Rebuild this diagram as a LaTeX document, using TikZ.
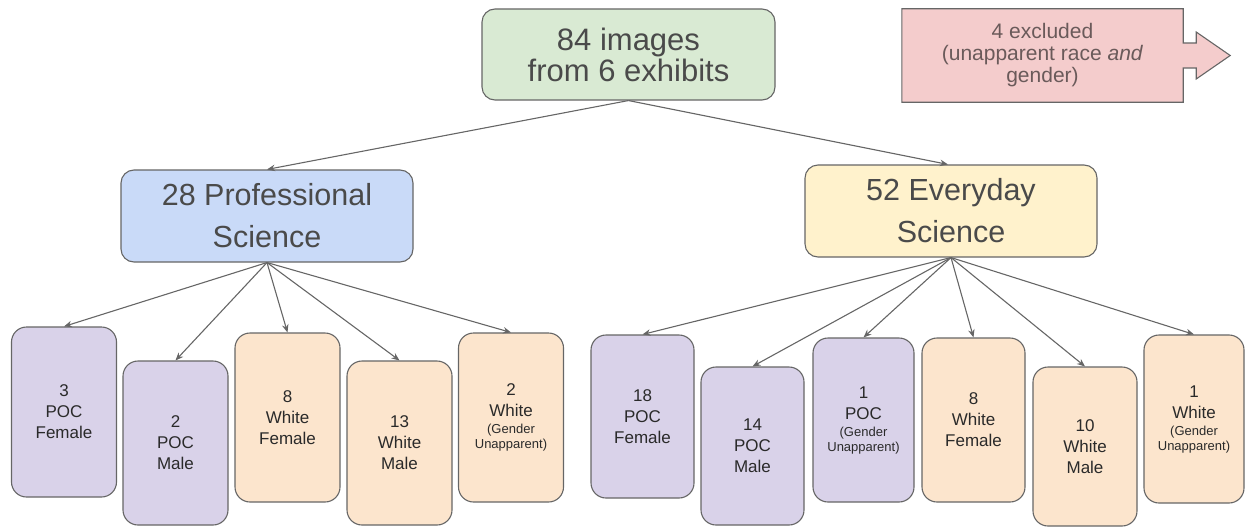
\documentclass[tikz,border=0pt]{standalone}
\usepackage{fontspec}
\setmainfont{Liberation Sans}
\usetikzlibrary{arrows.meta,calc,backgrounds}

\definecolor{edge}{HTML}{666666}
\definecolor{bigtext}{HTML}{4A4A4A}
\definecolor{leaftext}{HTML}{2A2A2A}
\definecolor{notetext}{HTML}{6A5A5A}
\definecolor{rootfill}{HTML}{D9EAD3}
\definecolor{profill}{HTML}{C9DAF8}
\definecolor{dayfill}{HTML}{FFF2CC}
\definecolor{pocfill}{HTML}{D9D2E9}
\definecolor{whtfill}{HTML}{FCE5CD}
\definecolor{exclfill}{HTML}{F4CCCC}

\newcommand{\smallnote}[1]{{\fontsize{13}{15}\selectfont #1}}

\begin{document}
\begin{tikzpicture}[x=1pt,y=-1pt,
  box/.style={draw=edge, line width=1.1pt, rounded corners=13pt, inner sep=0pt,
    align=center, text=bigtext},
  head/.style={box, minimum width=292pt, minimum height=92pt,
    font=\fontsize{30.5}{42}\selectfont},
  leaf/.style={box, rounded corners=15pt, minimum width=105pt,
    font=\fontsize{17}{21}\selectfont, text=leaftext},
  poc/.style={leaf, fill=pocfill},
  wht/.style={leaf, fill=whtfill},
  link/.style={draw=edge, line width=1.1pt, -{Stealth[length=8pt,width=6.5pt]}}
]
\useasboundingbox (0,0) rectangle (1249,527);

% top level
\node[box, fill=rootfill, minimum width=293pt, minimum height=91pt,
      font=\fontsize{31}{31}\selectfont] (root) at (628.5,54.5)
      {84 images\\from 6 exhibits};

% excluded note with its arrow tab
\node[inner sep=0pt, minimum width=281pt, minimum height=93pt, align=center,
      text=notetext, font=\fontsize{21}{22}\selectfont] (excl) at (1042.5,55.5)
      {4 excluded\\(unapparent race \textit{and}\\gender)};
\begin{scope}[on background layer]
  \draw[edge, line width=1.1pt, fill=exclfill, line join=miter]
    (excl.north west) -- (excl.north east)
    -- ($(excl.east)+(0,-12.5)$) -- ++(13,0) -- ++(0,-11)
    -- ($(excl.east)+(47,0)$)
    -- ($(excl.east)+(13,23.5)$) -- ++(0,-11)
    -- ($(excl.east)+(0,12.5)$)
    -- (excl.south east) -- (excl.south west) -- cycle;
\end{scope}

% second level
\node[head, fill=profill] (pro) at (267,216) {28 Professional\\Science};
\node[head, fill=dayfill] (day) at (951,211) {52 Everyday\\Science};

% professional science groups
\node[poc, minimum height=170pt] (p1) at (64,412)    {3\\POC\\Female};
\node[poc, minimum height=164pt] (p2) at (175.5,443) {2\\POC\\Male};
\node[wht, minimum height=169pt] (p3) at (287.5,417.5) {8\\White\\Female};
\node[wht, minimum height=164pt] (p4) at (399.5,443) {13\\White\\Male};
\node[wht, minimum height=169pt] (p5) at (511,417.5)
  {2\\White\\[-4pt]\smallnote{(Gender}\\[-6pt]\smallnote{Unapparent)}};

% everyday science groups
\node[poc, minimum width=103pt, minimum height=163pt] (e1) at (642.5,416.5) {18\\POC\\Female};
\node[poc, minimum width=103pt, minimum height=158pt] (e2) at (752.5,446) {14\\POC\\Male};
\node[poc, minimum width=101pt, minimum height=164pt] (e3) at (863.5,420)
  {1\\POC\\[-4pt]\smallnote{(Gender}\\[-6pt]\smallnote{Unapparent)}};
\node[wht, minimum width=103pt, minimum height=164pt] (e4) at (973.5,420) {8\\White\\Female};
\node[wht, minimum width=104pt, minimum height=159pt] (e5) at (1085,446.5) {10\\White\\Male};
\node[wht, minimum width=100pt, minimum height=168pt] (e6) at (1194,419)
  {1\\White\\[-4pt]\smallnote{(Gender}\\[-6pt]\smallnote{Unapparent)}};

% connectors
\draw[link] (root.south) -- (pro.north);
\draw[link] (root.south) -- ([xshift=-3pt]day.north);
\foreach \c in {p1,p2,p3,p4,p5} \draw[link] (pro.south) -- (\c.north);
\foreach \c in {e1,e2,e3,e4,e5,e6} \draw[link] (day.south) -- (\c.north);
\end{tikzpicture}
\end{document}
